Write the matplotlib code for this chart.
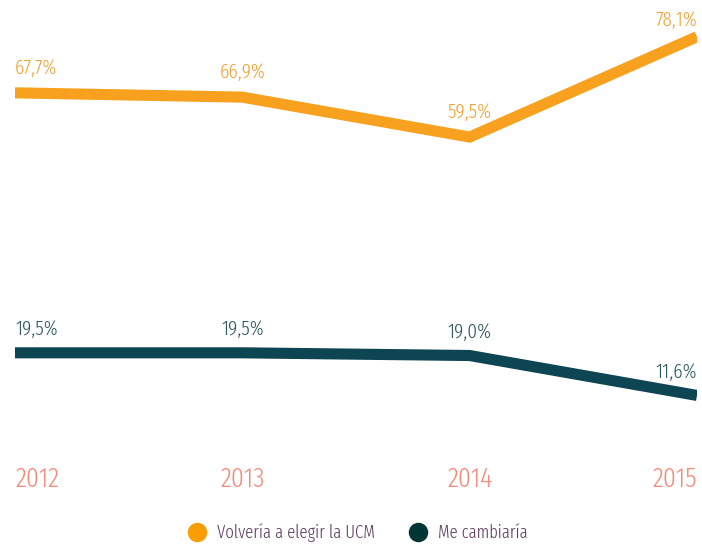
import matplotlib
matplotlib.use("Agg")
import matplotlib.pyplot as plt
from matplotlib.lines import Line2D

# ── Data ────────────────────────────────────────────────
years = ["2012", "2013", "2014", "2015"]
volveria = [67.7, 66.9, 59.5, 78.1]
cambiaria = [19.5, 19.5, 19.0, 11.6]
series_names = ["Volvería a elegir la UCM", "Me cambiaría"]

ORANGE = "#F7A11F"
ORANGE_TXT = "#F0A232"
TEAL = "#0E4552"
TEAL_TXT = "#2C575C"
SALMON = "#F28C7C"
PURPLE = "#5A3A5C"
FONT = ["Fira Sans Extra Condensed", "DejaVu Sans"]

plt.rcParams["font.family"] = FONT
plt.rcParams["font.weight"] = 300

fig = plt.figure(figsize=(7.02, 5.45), dpi=100)
ax = fig.add_axes([15 / 702, 87 / 545, 682 / 702, 458 / 545])

x = list(range(len(years)))
ax.plot(x, volveria, color=ORANGE, lw=8, solid_capstyle="butt", solid_joinstyle="miter")
ax.plot(x, cambiaria, color=TEAL, lw=8, solid_capstyle="butt", solid_joinstyle="miter")

ax.set_xlim(0, 3)
ax.set_ylim(0, 458 / 5.394)

def fmt(v):
    return f"{v:.1f}%".replace(".", ",")

aligns = ["left", "center", "center", "right"]
top_offs = [11, 11, 11, 5]   # last label sits lower, near top edge
for i in x:
    ax.annotate(fmt(volveria[i]), (i, volveria[i]), xytext=(0, top_offs[i]), textcoords="offset points",
                ha=aligns[i], va="bottom", color=ORANGE_TXT, fontsize=15, annotation_clip=False)
    ax.annotate(fmt(cambiaria[i]), (i, cambiaria[i]), xytext=(0, 10), textcoords="offset points",
                ha=aligns[i], va="bottom", color=TEAL_TXT, fontsize=15, annotation_clip=False)

ax.set_xticks(x)
ax.set_xticklabels(years, fontsize=20, color=SALMON)
ax.tick_params(axis="x", length=0, pad=6)
for lbl, ha in zip(ax.get_xticklabels(), aligns):
    lbl.set_horizontalalignment(ha)
ax.set_yticks([])
for s in ax.spines.values():
    s.set_visible(False)

handles = [Line2D([], [], ls="none", marker="o", markersize=13, color="#F99D00"),
           Line2D([], [], ls="none", marker="o", markersize=13, color="#003535")]
leg = fig.legend(handles, series_names, loc="center", bbox_to_anchor=(358 / 702, 12 / 545),
                 ncol=2, frameon=False, fontsize=13, handletextpad=0.6, columnspacing=1.9,
                 handlelength=1.0)
for t in leg.get_texts():
    t.set_color(PURPLE)

fig.savefig("out.png", dpi=100)
